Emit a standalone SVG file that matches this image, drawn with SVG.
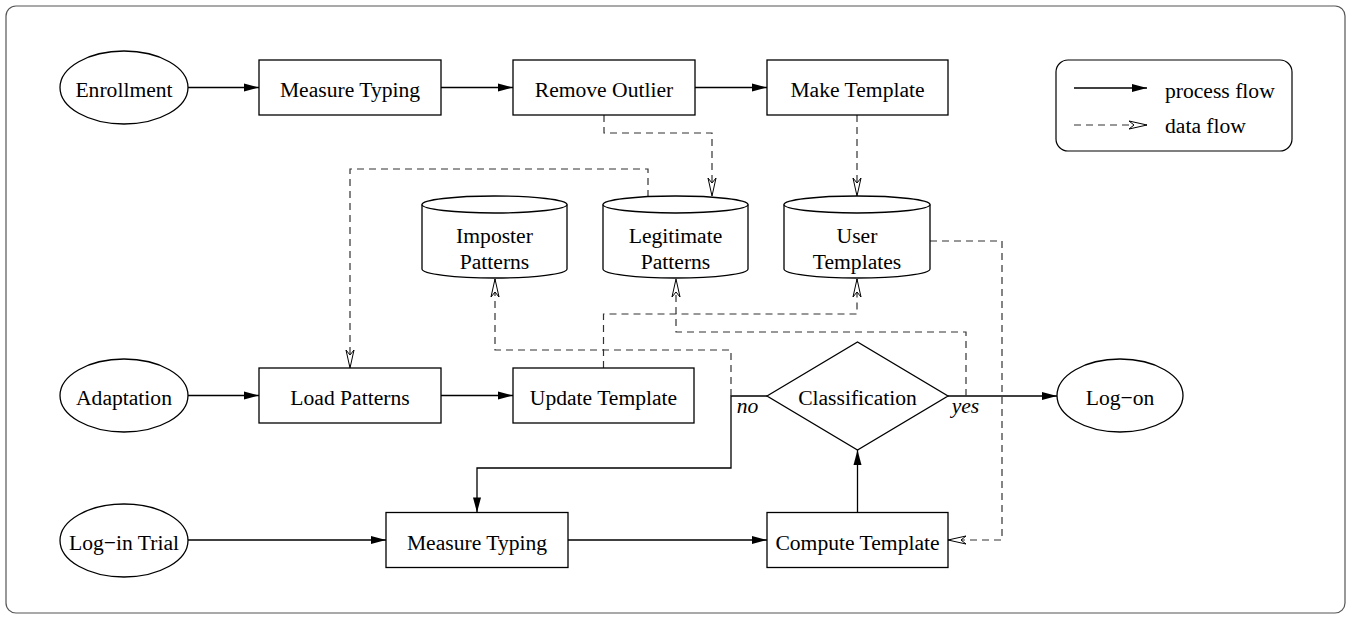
<svg xmlns="http://www.w3.org/2000/svg" width="1348" height="618" viewBox="0 0 1348 618">
<style>
text{font-family:"Liberation Serif","Times New Roman",serif;font-size:21.6px;fill:#000;text-anchor:middle}
.it{font-style:italic}
.lg{text-anchor:start}
.shape{fill:#fff;stroke:#000;stroke-width:1.3}
.proc{fill:none;stroke:#000;stroke-width:1.3;marker-end:url(#fa)}
.data{fill:none;stroke:#333;stroke-width:1.2;stroke-dasharray:7 5;marker-end:url(#oa)}
</style>
<defs>
<marker id="fa" markerUnits="userSpaceOnUse" markerWidth="16" markerHeight="10" viewBox="0 0 16 10" refX="15.5" refY="5" orient="auto"><path d="M0.5,1 L15.5,5 L0.5,9 z" fill="#000"/></marker>
<marker id="oa" markerUnits="userSpaceOnUse" markerWidth="20" markerHeight="10" viewBox="0 0 20 10" refX="19" refY="5" orient="auto"><path d="M1,1 L19,5 L1,9 L6,5 z" fill="#fff" stroke="#000" stroke-width="1"/></marker>
</defs>
<rect x="6" y="6" width="1339" height="607" rx="10" fill="none" stroke="#555" stroke-width="1.2"/>

<g id="connectors">
<path class="proc" d="M188,87.5 H259"/>
<path class="proc" d="M441,87.5 H513"/>
<path class="proc" d="M695,87.5 H767"/>
<path class="proc" d="M188,395.5 H259"/>
<path class="proc" d="M441,395.5 H513"/>
<path class="proc" d="M948,396 H1057"/>
<path class="proc" d="M767,396 H731 V468 H477 V512.5"/>
<path class="proc" d="M188,540 H386"/>
<path class="proc" d="M568,540 H767"/>
<path class="proc" d="M857.5,512.5 V450"/>
<path class="data" d="M604,115 V133 H712 V196"/>
<path class="data" d="M857,115 V196"/>
<path class="data" d="M648,197 V169 H350 V368"/>
<path class="data" d="M603.5,368 V314 H857 V279"/>
<path class="data" d="M966,396 V332 H676 V279"/>
<path class="data" d="M731,396 V350 H495 V279"/>
<path class="data" d="M930,241 H1002 V540 H948"/>
</g>

<g id="enrollment"><ellipse class="shape" cx="124" cy="87.5" rx="64" ry="36.5"/><text x="124" y="97">Enrollment</text></g>
<g id="measure-typing-1"><rect class="shape" x="259" y="60" width="182" height="55"/><text x="350" y="97">Measure Typing</text></g>
<g id="remove-outlier"><rect class="shape" x="513" y="60" width="182" height="55"/><text x="604" y="97">Remove Outlier</text></g>
<g id="make-template"><rect class="shape" x="767" y="60" width="181" height="55"/><text x="857.5" y="97">Make Template</text></g>

<g id="imposter-patterns"><path class="shape" d="M422,204.5 V269 A72.5,9 0 0,0 567,269 V204.5"/><ellipse class="shape" cx="494.5" cy="204.5" rx="72.5" ry="8.5"/><text x="494.5" y="243">Imposter</text><text x="494.5" y="269">Patterns</text></g>
<g id="legitimate-patterns"><path class="shape" d="M603,204.5 V269 A72.5,9 0 0,0 748,269 V204.5"/><ellipse class="shape" cx="675.5" cy="204.5" rx="72.5" ry="8.5"/><text x="675.5" y="243">Legitimate</text><text x="675.5" y="269">Patterns</text></g>
<g id="user-templates"><path class="shape" d="M784,204.5 V269 A73,9 0 0,0 930,269 V204.5"/><ellipse class="shape" cx="857" cy="204.5" rx="73" ry="8.5"/><text x="857" y="243">User</text><text x="857" y="269">Templates</text></g>

<g id="adaptation"><ellipse class="shape" cx="124" cy="395.5" rx="64" ry="36.5"/><text x="124" y="405">Adaptation</text></g>
<g id="load-patterns"><rect class="shape" x="259" y="368" width="182" height="55"/><text x="350" y="405">Load Patterns</text></g>
<g id="update-template"><rect class="shape" x="513" y="368" width="181" height="55"/><text x="603.5" y="405">Update Template</text></g>
<g id="classification"><path class="shape" d="M767,396 L857.5,342 L948,396 L857.5,450 z"/><text x="857.5" y="405">Classification</text></g>
<g id="label-no"><text class="it" x="747.5" y="413">no</text></g>
<g id="label-yes"><text class="it" x="965.5" y="413">yes</text></g>
<g id="log-on"><ellipse class="shape" cx="1120" cy="395.5" rx="63" ry="36.5"/><text x="1120" y="405">Log−on</text></g>

<g id="log-in-trial"><ellipse class="shape" cx="124" cy="540.5" rx="64" ry="36.5"/><text x="124" y="550">Log−in Trial</text></g>
<g id="measure-typing-2"><rect class="shape" x="386" y="512.5" width="182" height="55"/><text x="477" y="549.5">Measure Typing</text></g>
<g id="compute-template"><rect class="shape" x="767" y="512.5" width="181" height="55"/><text x="857.5" y="549.5">Compute Template</text></g>

<g id="legend">
<rect x="1056" y="60" width="236" height="91" rx="12" fill="#fff" stroke="#000" stroke-width="1.2"/>
<path class="proc" d="M1074,88 H1147"/>
<path class="data" d="M1074,125 H1147"/>
<text class="lg" x="1165" y="98">process flow</text>
<text class="lg" x="1165" y="133">data flow</text>
</g>
</svg>
